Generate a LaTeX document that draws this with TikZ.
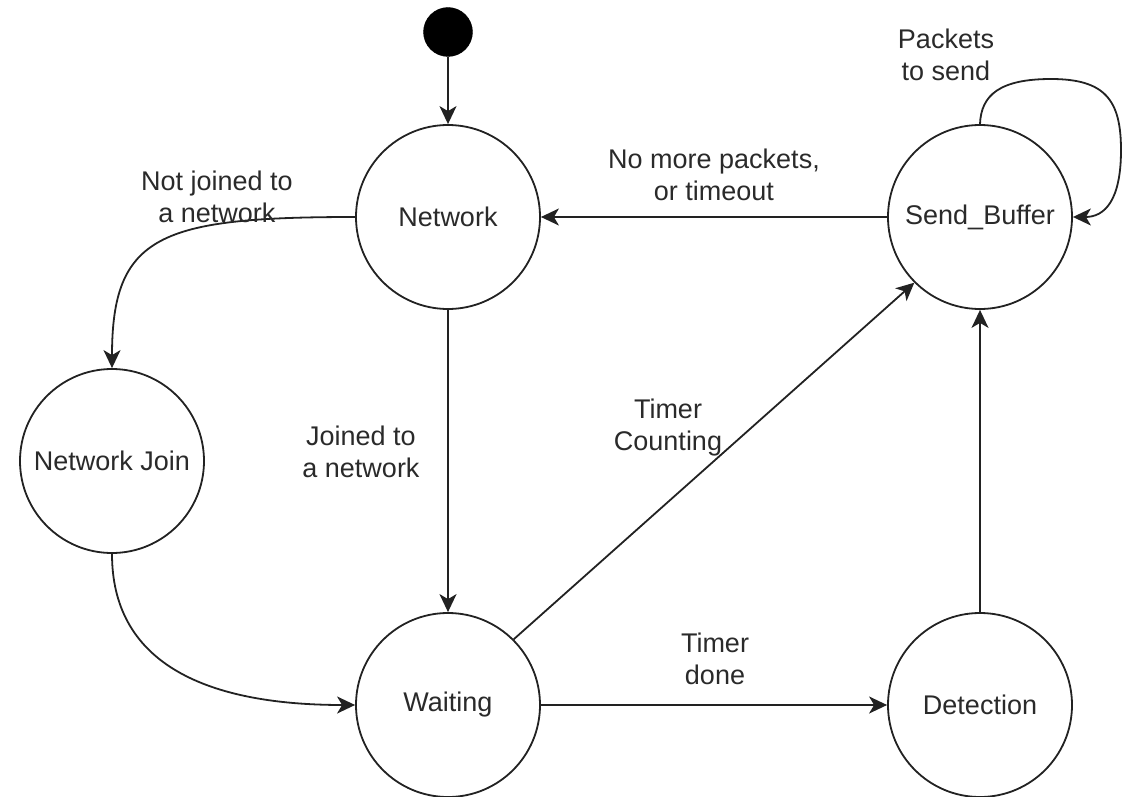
\documentclass[tikz,border=0pt]{standalone}
\usepackage{fontspec}
\setmainfont{Liberation Sans}
\usetikzlibrary{arrows.meta}
\definecolor{ink}{HTML}{222222}
\definecolor{txt}{HTML}{2A2A2A}
\tikzset{
  state/.style={circle, draw=ink, line width=1.8pt, fill=white,
    minimum size=184pt, inner sep=0pt, text=txt,
    font=\fontsize{27}{32}\selectfont},
  initstate/.style={circle, fill=black, draw=black, minimum size=49pt, inner sep=0pt},
  edge/.style={draw=ink, line width=1.8pt,
    -{Stealth[length=18pt, width=17pt, inset=5pt]}},
  lbl/.style={align=center, text=txt, inner sep=0pt,
    font=\fontsize{27}{32}\selectfont}
}
\begin{document}
\begin{tikzpicture}[x=1pt, y=-1pt]
  \useasboundingbox (0,0) rectangle (1135,797);

  % states
  \node[initstate] (init) at (448,32) {};
  \node[state] (net)  at (448,217) {Network};
  \node[state] (sb)   at (980,217) {Send\_Buffer};
  \node[state] (nj)   at (112,461) {Network Join};
  \node[state] (wait) at (448,705) {Waiting};
  \node[state] (det)  at (980,705) {Detection};

  % transitions
  \draw[edge] (init) -- (net);
  \draw[edge] (sb.west) -- (net.east);
  \draw[edge] (net.west) .. controls (160,217) and (112,235) .. (nj.north);
  \draw[edge] (net.south) -- (wait.north);
  \draw[edge] (nj.south) .. controls (112,660) and (200,705) .. (wait.west);
  \draw[edge] (wait.east) -- (det.west);
  \draw[edge] (det.north) -- (sb.south);
  \draw[edge] (wait.45) -- (sb.225);

  % self loop on Send_Buffer
  \coordinate (loopTop) at (1051,79);
  \coordinate (loopRight) at (1121,150);
  \draw[edge] (sb.north) .. controls (981,95) and (1000,79) .. (loopTop)
    .. controls (1105,79) and (1121,100) .. (loopRight)
    .. controls (1121,200) and (1105,217) .. (sb.east);

  % transition labels
  \node[lbl] (lpk) at (946,55) {Packets\\to send};
  \node[lbl] (lnm) at (714,175) {No more packets,\\or timeout};
  \node[lbl] (lnj) at (217,197) {Not joined to\\a network};
  \node[lbl] (ljn) at (361,452) {Joined to\\a network};
  \node[lbl] (ltc) at (668,428) {Timer\\Counting};
  \node[lbl] (ltd) at (715,659) {Timer\\done};
\end{tikzpicture}
\end{document}
